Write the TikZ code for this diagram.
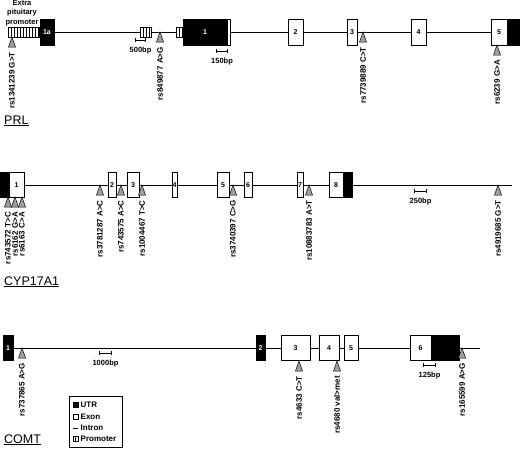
\documentclass[tikz,border=0pt]{standalone}
\usepackage{fontspec}
\setmainfont{Liberation Sans}
\usetikzlibrary{arrows.meta,backgrounds}

\begin{document}
\begin{tikzpicture}[x=1pt, y=-1pt,
    exon/.style={rectangle, draw, fill=white, inner sep=0pt, minimum height=25pt,
                 line width=0.6pt, font=\bfseries\fontsize{7}{7}\selectfont},
    utr/.style={exon, fill=black, text=white},
    promoter/.style={rectangle, draw, fill=white, inner sep=0pt, minimum height=10pt,
                 line width=0.6pt,
                 path picture={\foreach \i in {3,6,...,30}
                   \draw[line width=0.5pt] ([xshift=\i pt]path picture bounding box.south west)
                     -- ([xshift=\i pt]path picture bounding box.north west);}},
    intron/.style={line width=0.8pt},
    snp/.style={draw, fill=gray!75, line width=0.5pt},
    snplab/.style={rotate=90, anchor=east, inner sep=1pt,
                   font=\bfseries\fontsize{8}{8}\selectfont},
    scalebar/.style={{Bar[width=4pt]}-{Bar[width=4pt]}, line width=0.6pt},
    bp/.style={below=6pt, inner sep=1pt, font=\bfseries\fontsize{7.5}{7.5}\selectfont},
    gene/.style={anchor=base west, inner sep=0pt, font=\fontsize{12.5}{12.5}\selectfont},
    keytext/.style={anchor=west, inner sep=0pt, font=\bfseries\fontsize{8}{8}\selectfont}
]
    \useasboundingbox (0,0) rectangle (520,448);

    % PRL
    \node[align=center, inner sep=0pt, font=\bfseries\fontsize{7.5}{9.5}\selectfont]
        (extra) at (22,13) {Extra\\pituitary\\promoter};
    \node[promoter, minimum width=31pt] (prom1) at (23.5,32) {};
    \node[utr, minimum height=26pt, minimum width=14pt] (e1a) at (47,32) {1a};
    \node[promoter, minimum width=11pt] (prom2) at (145.5,32) {};
    \node[promoter, minimum width=7pt] (prom3) at (179.5,32) {};
    \node[utr, minimum height=26pt, minimum width=44pt] (e1) at (205,32) {1};
    \node[exon, minimum height=26pt, minimum width=3pt] (e1c) at (228.5,32) {};
    \node[exon, minimum height=26pt, minimum width=15pt] (e2) at (295.5,32) {2};
    \node[exon, minimum height=26pt, minimum width=10pt] (e3) at (352,32) {3};
    \node[exon, minimum height=26pt, minimum width=15pt] (e4) at (418.5,32) {4};
    \node[exon, minimum height=26pt, minimum width=16pt] (e5) at (499,32) {5};
    \node[utr, minimum height=26pt, minimum width=13pt] (e5u) at (513.5,32) {};
    \begin{scope}[on background layer]
        \draw[intron] (e1a.east) -- (e5.west);
    \end{scope}
    \draw[scalebar] (135,40) -- (146,40) node[bp, midway] (s500) {500bp};
    \draw[scalebar] (216,51) -- (228,51) node[bp, midway] (s150) {150bp};
    \foreach \x/\y/\t in {12/37/rs1341239 G>T, 160/32/rs849877 A>G,
                          363/32/rs7739889 C>T, 497/45/rs6239 G>A} {
        \draw[snp] (\x,\y) -- ++(-3.5,10) -- ++(7,0) -- cycle;
        \node[snplab] (prl\x) at (\x,\y+14) {\t};
    }
    \node[gene] (prl) at (4,124) {\underline{PRL}};

    % CYP17A1
    \node[utr, minimum width=9pt] (c1u) at (4.5,185) {};
    \node[exon, minimum width=15pt] (c1) at (16.5,185) {1};
    \node[exon, minimum width=8pt] (c2) at (112,185) {2};
    \node[exon, minimum width=12pt] (c3) at (133,185) {3};
    \node[exon, minimum width=5pt] (c4) at (174.5,185) {4};
    \node[exon, minimum width=12pt] (c5) at (223,185) {5};
    \node[exon, minimum width=8pt] (c6) at (248,185) {6};
    \node[exon, minimum width=6pt] (c7) at (300,185) {7};
    \node[exon, minimum width=14pt] (c8) at (336,185) {8};
    \node[utr, minimum width=9pt] (c8u) at (347.5,185) {};
    \coordinate (cypend) at (512,185);
    \begin{scope}[on background layer]
        \draw[intron] (c1.east) -- (cypend);
    \end{scope}
    \draw[scalebar] (414,191) -- (427,191) node[bp, midway] (s250) {250bp};
    \foreach \x/\y/\t in {8/197/rs743572 T>C, 15/197/rs6162 G>A, 22/197/rs6163 C>A,
                          100/185/rs3781287 A>C, 121/185/rs743575 A>C,
                          142/185/rs1004467 T>C, 233/185/rs3740397 C>G,
                          309/185/rs10883783 A>T, 498/185/rs4919685 G>T} {
        \draw[snp] (\x,\y) -- ++(-3.5,10) -- ++(7,0) -- cycle;
        \node[snplab] (cyp\x) at (\x,\y+14) {\t};
    }
    \node[gene] (cyp) at (4,285) {\underline{CYP17A1}};

    % COMT
    \node[utr, minimum width=10pt] (m1) at (8,348) {1};
    \node[utr, minimum width=9pt] (m2) at (260.5,348) {2};
    \node[exon, minimum width=29pt] (m3) at (295.5,348) {3};
    \node[exon, minimum width=20pt] (m4) at (329,348) {4};
    \node[exon, minimum width=14pt] (m5) at (351,348) {5};
    \node[exon, minimum width=21pt] (m6) at (420.5,348) {6};
    \node[utr, minimum width=28pt] (m6u) at (445,348) {};
    \coordinate (comtend) at (480,348);
    \begin{scope}[on background layer]
        \draw[intron] (m1.east) -- (comtend);
    \end{scope}
    \draw[scalebar] (99,353) -- (112,353) node[bp, midway] (s1000) {1000bp};
    \draw[scalebar] (423,365) -- (436,365) node[bp, midway] (s125) {125bp};
    \foreach \x/\y/\t in {22/348/rs737865 A>G, 299/361/rs4633 C>T,
                          337/361/rs4680 val>met, 462/348/rs165599 A>G} {
        \draw[snp] (\x,\y) -- ++(-3.5,10) -- ++(7,0) -- cycle;
        \node[snplab] (comt\x) at (\x,\y+14) {\t};
    }
    \node[gene] (comt) at (4,443) {\underline{COMT}};

    % key
    \node[draw, line width=0.6pt, inner sep=0pt, minimum width=53pt, minimum height=51.5pt]
        (key) at (95.5,421.75) {};
    \node[utr, minimum width=5pt, minimum height=5pt] (keyutr) at (75.5,405) {};
    \node[exon, minimum width=5pt, minimum height=5pt] (keyexon) at (75.5,417) {};
    \node[inner sep=0pt, minimum width=5pt, minimum height=1pt] (keyintron) at (75.5,428) {};
    \draw[intron] (keyintron.west) -- (keyintron.east);
    \node[exon, minimum width=5pt, minimum height=5pt] (keyprom) at (75.5,439) {};
    \draw[line width=0.5pt] (keyprom.north) -- (keyprom.south);
    \node[keytext] (ktutr) at (80.5,405) {UTR};
    \node[keytext] (ktexon) at (80.5,417) {Exon};
    \node[keytext] (ktintron) at (80.5,428) {Intron};
    \node[keytext] (ktprom) at (80.5,439) {Promoter};
\end{tikzpicture}
\end{document}
